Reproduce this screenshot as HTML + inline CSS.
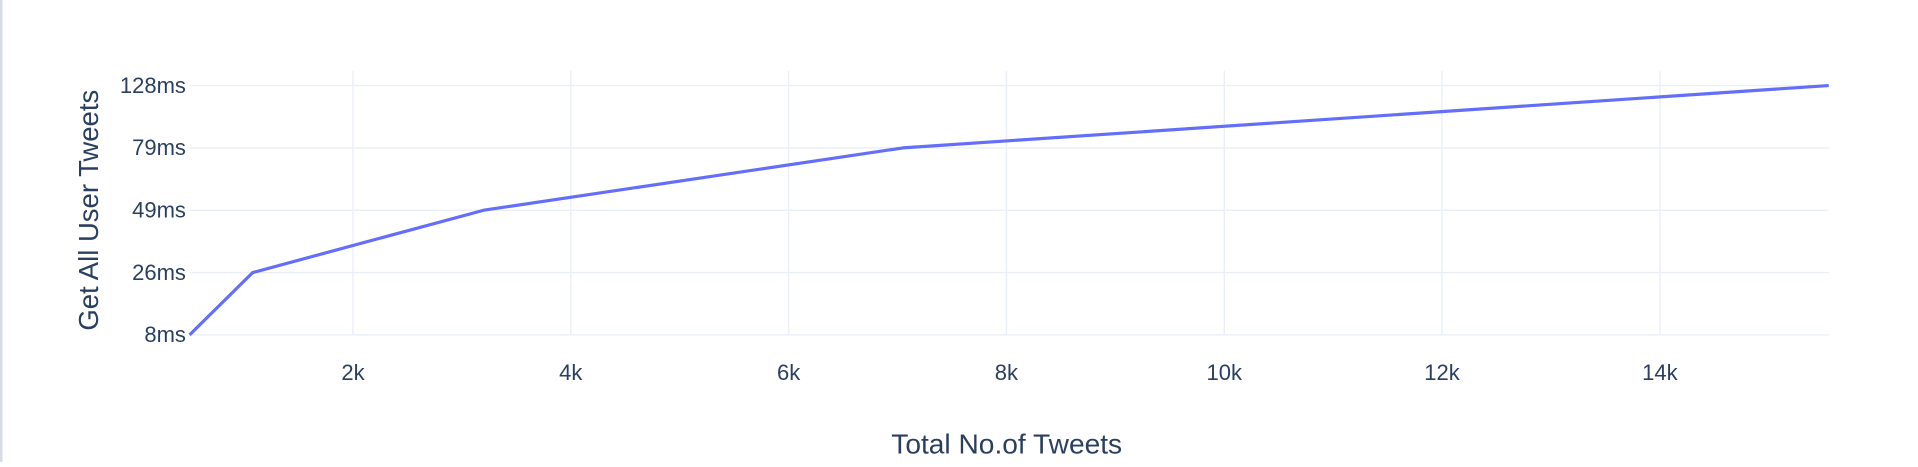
<!DOCTYPE html>
<html><head><meta charset="utf-8"><style>
body{margin:0;background:#fff;width:1918px;height:462px;overflow:hidden;font-family:"Liberation Sans",sans-serif}
</style></head><body>
<svg id="chart" width="1918" height="462" viewBox="0 0 1568 378" preserveAspectRatio="none" xmlns="http://www.w3.org/2000/svg">
<rect x="0" y="0" width="2" height="378" fill="#d8dce6"/>
<g id="grid"></g><g id="ticks"></g><g id="series"></g>
<text x="823" y="371" text-anchor="middle" font-size="23" fill="#2a3f5f">Total No.of Tweets</text>
<text transform="translate(80,172) rotate(-90)" text-anchor="middle" font-size="22.5" fill="#2a3f5f">Get All User Tweets</text>
</svg>
<script>
const xValues=[500,1080,3200,7050,15550];
const yCategories=["8ms","26ms","49ms","79ms","128ms"];
const yValues=["8ms","26ms","49ms","79ms","128ms"];
const xTicks=[2000,4000,6000,8000,10000,12000,14000];
const xTickLabels=["2k","4k","6k","8k","10k","12k","14k"];
const NS="http://www.w3.org/2000/svg";
const L=155,R=1495,T=70,B=274;
const xMin=Math.min(...xValues),xMax=Math.max(...xValues);
const xs=v=>L+(v-xMin)/(xMax-xMin)*(R-L);
const ys=c=>B-yCategories.indexOf(c)*(B-T)/(yCategories.length-1);
function mk(tag,attrs,parent){const e=document.createElementNS(NS,tag);for(const k in attrs)e.setAttribute(k,attrs[k]);document.getElementById(parent).appendChild(e);return e;}
xTicks.forEach((t,i)=>{
 const x=xs(t);
 const g=mk('line',{x1:x,x2:x,y1:T-12,y2:B,stroke:'#ebf0f8','stroke-width':1.2},'grid');
 
 
 const tx=mk('text',{x:x,y:B+37,'text-anchor':'middle','font-size':18,fill:'#2a3f5f'},'ticks');
 tx.textContent=xTickLabels[i];
 
 
});
yCategories.forEach(c=>{
 const y=ys(c);
 const g=mk('line',{x1:L,x2:R,y1:y,y2:y,stroke:'#ebf0f8','stroke-width':1.2},'grid');
 
 
 const tx=mk('text',{x:L-3,y:y+6,'text-anchor':'end','font-size':18,fill:'#2a3f5f'},'ticks');
 tx.textContent=c;
 
 
});
const pts=xValues.map((x,i)=>xs(x)+','+ys(yValues[i])).join(' ');
const pl=mk('polyline',{points:pts,fill:'none',stroke:'#636efa','stroke-width':2.6,'stroke-linejoin':'round'},'series');


</script>
</body></html>
